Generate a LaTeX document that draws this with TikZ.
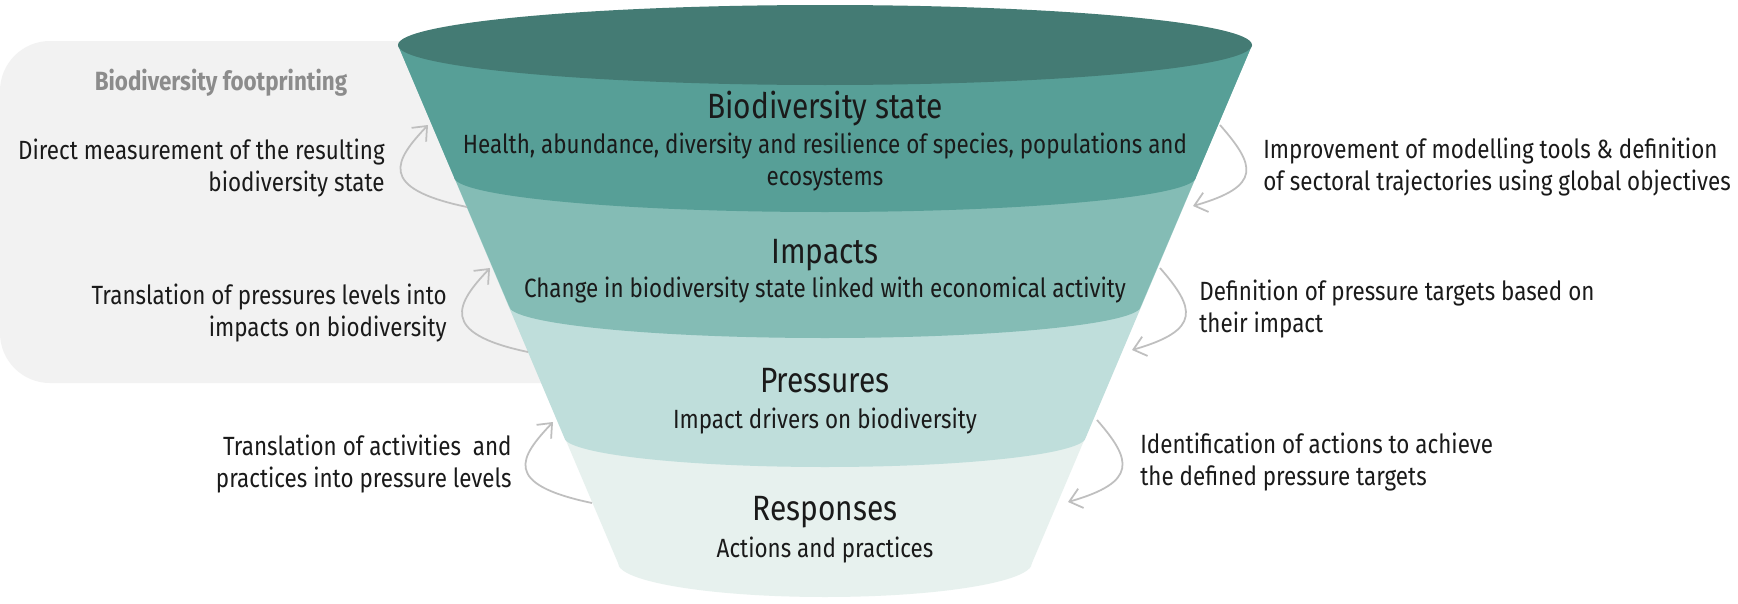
\documentclass[tikz,border=0pt]{standalone}
\usepackage{fontspec}
\setmainfont{Fira Sans}[FakeStretch=0.85]
\usepackage{xcolor}
\usetikzlibrary{arrows.meta}

\definecolor{topcol}{HTML}{447B74}
\definecolor{statecol}{HTML}{579F97}
\definecolor{impactcol}{HTML}{84BCB5}
\definecolor{pressurecol}{HTML}{BFDEDB}
\definecolor{responsecol}{HTML}{E7F1EE}
\definecolor{boxgrey}{HTML}{F2F2F2}
\definecolor{headgrey}{HTML}{8C8C8C}
\definecolor{arrowgrey}{HTML}{BFBFBF}
\definecolor{txt}{HTML}{1A1A1A}

\begin{document}
\begin{tikzpicture}[x=0.2mm, y=0.2mm,
    layertitle/.style={font=\fontsize{20}{24}\selectfont, text=txt, inner sep=0pt, anchor=base},
    layersub/.style={font=\fontsize{15}{18.5}\selectfont, text=txt, inner sep=0pt, align=center},
    lefttext/.style={font=\fontsize{15}{18.7}\selectfont, text=txt, inner sep=0pt, align=right, anchor=east},
    righttext/.style={font=\fontsize{15}{18.2}\selectfont, text=txt, inner sep=0pt, align=left, anchor=west},
    feedback/.style={draw=arrowgrey, line width=1pt, -{Straight Barb[length=2.4mm, width=4mm]}}]
      \fill[white] (0,0) rectangle (1738,-604);
      \useasboundingbox (0,0) rectangle (1738,-604);
      % footprinting area
      \fill[boxgrey, rounded corners=10mm] (0,-41) rectangle (600,-383);
      % funnel, bottom layer first
      \fill[responsecol] (398,-45) -- (618,-563) arc[start angle=180, end angle=360, x radius=207, y radius=34] -- (1252,-45) -- cycle;
      \fill[pressurecol] (398,-45) -- (564,-437) arc[start angle=180, end angle=360, x radius=261, y radius=30] -- (1252,-45) -- cycle;
      \fill[impactcol] (398,-45) -- (509,-306) arc[start angle=180, end angle=360, x radius=316, y radius=32] -- (1252,-45) -- cycle;
      \fill[statecol] (398,-45) -- (454,-177) arc[start angle=180, end angle=360, x radius=371, y radius=35] -- (1252,-45) -- cycle;
      \fill[topcol] (825,-45) ellipse[x radius=427, y radius=40];
      % layer texts
      \node[layertitle] (statetitle) at (825,-118) {Biodiversity state};
      \node[layersub] (statesub) at (825,-162) {Health, abundance, diversity and resilience of species, populations and\\ecosystems};
      \node[layertitle] (impacttitle) at (825,-263) {Impacts};
      \node[layersub, anchor=base] (impactsub) at (825,-297) {Change in biodiversity state linked with economical activity};
      \node[layertitle] (pressuretitle) at (825,-392) {Pressures};
      \node[layersub, anchor=base] (pressuresub) at (825,-428) {Impact drivers on biodiversity};
      \node[layertitle] (responsetitle) at (825,-520) {Responses};
      \node[layersub, anchor=base] (responsesub) at (825,-557) {Actions and practices};
      % left side
      \node[font=\fontsize{15}{18}\selectfont\bfseries, text=headgrey, inner sep=0pt, anchor=base] (footprint) at (221,-90) {Biodiversity footprinting};
      \node[lefttext] (measure) at (385,-168) {Direct measurement of the resulting\\biodiversity state};
      \node[lefttext] (translpress) at (447,-313) {Translation of pressures levels into\\impacts on biodiversity};
      \node[lefttext] (translact) at (512,-464) {Translation of activities\ \ and\\practices into pressure levels};
      % right side
      \node[righttext] (modelling) at (1263,-167) {Improvement of modelling tools \& definition\\of sectoral trajectories using global objectives};
      \node[righttext] (targets) at (1199,-309) {Definition of pressure targets based on\\their impact};
      \node[righttext] (actions) at (1140,-462) {Identification of actions to achieve\\the defined pressure targets};
      % feedback arrows
      \coordinate (meas-a) at (467,-207);
      \coordinate (meas-b) at (428,-125);
      \coordinate (press-a) at (528,-352);
      \coordinate (press-b) at (490,-268);
      \coordinate (act-a) at (592,-503);
      \coordinate (act-b) at (553,-422);
      \coordinate (model-a) at (1220,-125);
      \coordinate (model-b) at (1193,-206);
      \coordinate (target-a) at (1160,-268);
      \coordinate (target-b) at (1132,-350);
      \coordinate (ident-a) at (1097,-420);
      \coordinate (ident-b) at (1068,-502);
      \draw[feedback] (meas-a) .. controls +(-91,19) and +(-33,-35) .. (meas-b);
      \draw[feedback] (press-a) .. controls +(-91,19) and +(-33,-35) .. (press-b);
      \draw[feedback] (act-a) .. controls +(-91,19) and +(-33,-35) .. (act-b);
      \draw[feedback] (model-a) .. controls +(35,-40) and +(70,20) .. (model-b);
      \draw[feedback] (target-a) .. controls +(35,-40) and +(70,20) .. (target-b);
      \draw[feedback] (ident-a) .. controls +(35,-40) and +(70,20) .. (ident-b);
    \end{tikzpicture}
\end{document}
